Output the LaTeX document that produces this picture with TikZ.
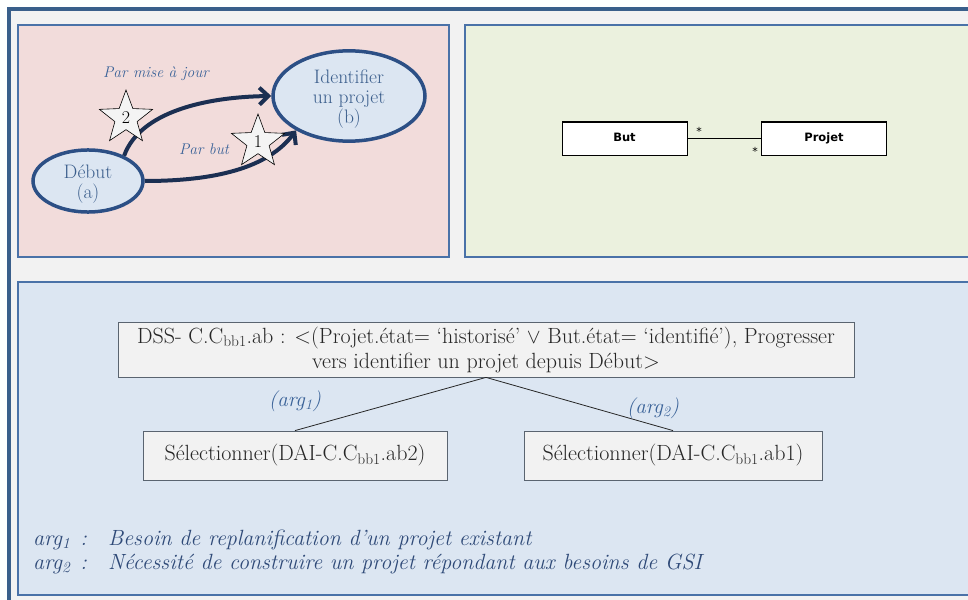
\documentclass[tikz,border=0pt]{standalone}
\usepackage{fontspec}
\usetikzlibrary{shapes.geometric,arrows.meta}
\newfontfamily\umlfont{DejaVu Sans}
\definecolor{framec}{HTML}{3A5F8B}
\definecolor{grayc}{HTML}{F2F2F2}
\definecolor{panelline}{HTML}{4A72A8}
\definecolor{pinkc}{HTML}{F2DCDB}
\definecolor{greenc}{HTML}{EBF1DE}
\definecolor{bluec}{HTML}{DCE6F2}
\definecolor{ellline}{HTML}{2C4F85}
\definecolor{elltext}{HTML}{3B5E8C}
\definecolor{arrc}{HTML}{1B2F52}
\definecolor{lblc}{HTML}{3A6298}
\definecolor{legc}{HTML}{2F4A78}
\definecolor{boxline}{HTML}{5A6470}
\definecolor{starfill}{HTML}{F4F4F4}
\tikzset{
  panel/.style={draw=panelline, line width=1.5pt},
  ell/.style={ellipse, draw=ellline, line width=3.5pt, fill=bluec, inner sep=0pt, align=center,
    text=elltext, font=\fontsize{19.5}{20}\selectfont},
  arr/.style={draw=arrc, line width=4pt, -{Straight Barb[length=9pt,width=17pt]}},
  starnode/.style={star, star points=5, star point ratio=2.4, minimum size=56pt, inner sep=0pt,
    draw=black, line width=0.6pt, fill=starfill, font=\fontsize{18}{18}\selectfont},
  lbl/.style={text=lblc, font=\fontsize{15.5}{17}\selectfont\itshape, inner sep=0pt},
  umlbox/.style={draw=black, line width=1pt, fill=white, minimum width=125pt, minimum height=33pt,
    inner sep=0pt, font=\umlfont\bfseries\fontsize{11.5}{13}\selectfont},
  mult/.style={font=\umlfont\fontsize{11}{12}\selectfont, inner sep=0pt},
  txtbox/.style={draw=boxline, line width=0.8pt, fill=grayc, inner sep=0pt, align=center,
    text=black!85, font=\fontsize{22}{25}\selectfont},
  edge/.style={draw=black!85, line width=0.8pt},
  arglbl/.style={text=lblc, font=\fontsize{21}{22}\selectfont\itshape, inner sep=0pt},
  legend/.style={text=legc, font=\fontsize{22}{24}\selectfont\itshape, inner sep=0pt, anchor=base west}
}
\begin{document}
\begin{tikzpicture}[x=1pt,y=-1pt]
\useasboundingbox (0,0) rectangle (968,599);
\fill[white] (0,0) rectangle (968,599);
\clip (0,0) rectangle (968,599);
% frames
\draw[draw=framec, line width=4pt, fill=grayc] (9,9) rectangle (995,625);
\draw[panel, fill=pinkc] (18,25) rectangle (449,257);
\draw[panel, fill=greenc] (465,25) rectangle (995,257);
\draw[panel, fill=bluec] (18,282) rectangle (995,595);
% state diagram
\node[ell, minimum width=110pt, minimum height=62pt] (deb) at (88,181) {\rule{0pt}{19pt}Début\\(a)};
\node[ell, minimum width=152pt, minimum height=76pt] (idp) at (349,96) {\rule{0pt}{19pt}Identifier\\un projet\\(b)};
\draw[arr] (deb.35) .. controls (140,112) and (205,97) .. (idp.west);
\draw[arr] (deb.east) .. controls (215,181) and (268,168) .. (idp.213);
\node[starnode] (st2) at (126,118) {2};
\node[starnode] (st1) at (258,142) {1};
\node[lbl] (pm) at (156,74) {Par mise à jour};
\node[lbl] (pb) at (204,149) {Par but};
% UML
\node[umlbox] (but) at (624.5,138.5) {\raisebox{3pt}{But}};
\node[umlbox] (proj) at (824,138.5) {\raisebox{3pt}{Projet}};
\draw[line width=1pt] (but.east) -- (proj.west);
\node[mult] (m1) at (699,131) {*};
\node[mult] (m2) at (755,151) {*};
% argumentation tree
\node[txtbox, minimum width=736pt, minimum height=55pt] (dss) at (486,349.5)
  {DSS- C.C\textsubscript{bb1}.ab : <(Projet.état= ‘historisé’ $\vee$ But.état= ‘identifié’), Progresser\\
   vers identifier un projet depuis Début>};
\node[txtbox, minimum width=304pt, minimum height=49pt] (sa) at (295,455.5)
  {Sélectionner(DAI-C.C\textsubscript{bb1}.ab2)};
\node[txtbox, minimum width=298pt, minimum height=49pt] (sb) at (673,455.5)
  {Sélectionner(DAI-C.C\textsubscript{bb1}.ab1)};
\draw[edge] (dss.south) -- (sa.north);
\draw[edge] (dss.south) -- (sb.north);
\node[arglbl] (a1) at (295,401) {(arg\textsubscript{1})};
\node[arglbl] (a2) at (653,408) {(arg\textsubscript{2})};
% legend
\node[legend] (l1) at (33,545) {\makebox[75pt][l]{arg\textsubscript{1}\hspace{10pt}:}Besoin de replanification d’un projet existant};
\node[legend] (l2) at (33,569) {\makebox[75pt][l]{arg\textsubscript{2}\hspace{10pt}:}Nécessité de construire un projet répondant aux besoins de GSI};
\end{tikzpicture}
\end{document}
